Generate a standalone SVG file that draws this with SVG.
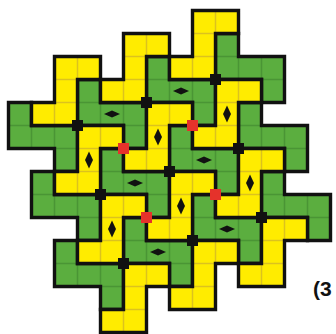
<svg xmlns="http://www.w3.org/2000/svg" width="336" height="334" viewBox="0 0 336 334">
<style>
.gf{fill:#5BAE3F;stroke:none}
.yf{fill:#FFEC00;stroke:none}
.gl{fill:none;stroke:#4A9535;stroke-width:1.5}
.yl{fill:none;stroke:#DCC21E;stroke-width:1.5}
.o{fill:none;stroke:#111;stroke-width:3.4;stroke-linejoin:miter}
.b{fill:#111}
.r{fill:#E5322B}
.d{fill:#111}
text{font-family:"Liberation Sans",Arial,sans-serif;font-weight:bold;font-size:21px;fill:#111}
</style>
<defs>
<path id="H" d="M0 0H23V23H69V69H46V46H0Z"/>
<path id="Hi" d="M0 23H23M23 23V46M46 23V46M46 46H69"/>
<path id="V" d="M23 0H69V23H46V69H0V46H23Z"/>
<path id="Vi" d="M46 0V23M23 23H46M23 46H46M23 46V69"/>
<path id="dh" d="M-8 0L0 -3.6L8 0L0 3.6Z"/>
<path id="dv" d="M0 -8.5L4 0L0 8.5L-4 0Z"/>
<rect id="sq" x="-5.5" y="-5.5" width="11" height="11"/>
</defs>
<g id="tiles">
<g id="g1" transform="translate(8.5,102.5)"><use href="#H" class="gf"/><use href="#Hi" class="gl"/><use href="#H" class="o"/></g>
<g id="g2" transform="translate(77.5,79.5)"><use href="#H" class="gf"/><use href="#Hi" class="gl"/><use href="#H" class="o"/></g>
<g id="g3" transform="translate(146.5,56.5)"><use href="#H" class="gf"/><use href="#Hi" class="gl"/><use href="#H" class="o"/></g>
<g id="g4" transform="translate(215.5,33.5)"><use href="#H" class="gf"/><use href="#Hi" class="gl"/><use href="#H" class="o"/></g>
<g id="g5" transform="translate(31.5,171.5)"><use href="#H" class="gf"/><use href="#Hi" class="gl"/><use href="#H" class="o"/></g>
<g id="g6" transform="translate(100.5,148.5)"><use href="#H" class="gf"/><use href="#Hi" class="gl"/><use href="#H" class="o"/></g>
<g id="g7" transform="translate(169.5,125.5)"><use href="#H" class="gf"/><use href="#Hi" class="gl"/><use href="#H" class="o"/></g>
<g id="g8" transform="translate(238.5,102.5)"><use href="#H" class="gf"/><use href="#Hi" class="gl"/><use href="#H" class="o"/></g>
<g id="g9" transform="translate(54.5,240.5)"><use href="#H" class="gf"/><use href="#Hi" class="gl"/><use href="#H" class="o"/></g>
<g id="g10" transform="translate(123.5,217.5)"><use href="#H" class="gf"/><use href="#Hi" class="gl"/><use href="#H" class="o"/></g>
<g id="g11" transform="translate(192.5,194.5)"><use href="#H" class="gf"/><use href="#Hi" class="gl"/><use href="#H" class="o"/></g>
<g id="g12" transform="translate(261.5,171.5)"><use href="#H" class="gf"/><use href="#Hi" class="gl"/><use href="#H" class="o"/></g>
<g id="y1" transform="translate(31.5,56.5)"><use href="#V" class="yf"/><use href="#Vi" class="yl"/><use href="#V" class="o"/></g>
<g id="y2" transform="translate(100.5,33.5)"><use href="#V" class="yf"/><use href="#Vi" class="yl"/><use href="#V" class="o"/></g>
<g id="y3" transform="translate(169.5,10.5)"><use href="#V" class="yf"/><use href="#Vi" class="yl"/><use href="#V" class="o"/></g>
<g id="y4" transform="translate(54.5,125.5)"><use href="#V" class="yf"/><use href="#Vi" class="yl"/><use href="#V" class="o"/></g>
<g id="y5" transform="translate(123.5,102.5)"><use href="#V" class="yf"/><use href="#Vi" class="yl"/><use href="#V" class="o"/></g>
<g id="y6" transform="translate(192.5,79.5)"><use href="#V" class="yf"/><use href="#Vi" class="yl"/><use href="#V" class="o"/></g>
<g id="y7" transform="translate(77.5,194.5)"><use href="#V" class="yf"/><use href="#Vi" class="yl"/><use href="#V" class="o"/></g>
<g id="y8" transform="translate(146.5,171.5)"><use href="#V" class="yf"/><use href="#Vi" class="yl"/><use href="#V" class="o"/></g>
<g id="y9" transform="translate(215.5,148.5)"><use href="#V" class="yf"/><use href="#Vi" class="yl"/><use href="#V" class="o"/></g>
<g id="y10" transform="translate(100.5,263.5)"><use href="#V" class="yf"/><use href="#Vi" class="yl"/><use href="#V" class="o"/></g>
<g id="y11" transform="translate(169.5,240.5)"><use href="#V" class="yf"/><use href="#Vi" class="yl"/><use href="#V" class="o"/></g>
<g id="y12" transform="translate(238.5,217.5)"><use href="#V" class="yf"/><use href="#Vi" class="yl"/><use href="#V" class="o"/></g>
</g>
<g id="centers">
<use href="#dh" class="d" x="112" y="114"/>
<use href="#dh" class="d" x="181" y="91"/>
<use href="#dh" class="d" x="135" y="183"/>
<use href="#dh" class="d" x="204" y="160"/>
<use href="#dh" class="d" x="158" y="252"/>
<use href="#dh" class="d" x="227" y="229"/>
<use href="#dv" class="d" x="89" y="160"/>
<use href="#dv" class="d" x="112" y="229"/>
<use href="#dv" class="d" x="158" y="137"/>
<use href="#dv" class="d" x="181" y="206"/>
<use href="#dv" class="d" x="227" y="114"/>
<use href="#dv" class="d" x="250" y="183"/>
<use href="#sq" class="b" x="146.5" y="102.5"/>
<use href="#sq" class="b" x="215.5" y="79.5"/>
<use href="#sq" class="b" x="77.5" y="125.5"/>
<use href="#sq" class="b" x="238.5" y="148.5"/>
<use href="#sq" class="b" x="169.5" y="171.5"/>
<use href="#sq" class="b" x="100.5" y="194.5"/>
<use href="#sq" class="b" x="261.5" y="217.5"/>
<use href="#sq" class="b" x="192.5" y="240.5"/>
<use href="#sq" class="b" x="123.5" y="263.5"/>
<use href="#sq" class="r" x="123.5" y="148.5"/>
<use href="#sq" class="r" x="192.5" y="125.5"/>
<use href="#sq" class="r" x="215.5" y="194.5"/>
<use href="#sq" class="r" x="146.5" y="217.5"/>
</g>
<text x="313" y="296">(3</text>
</svg>
